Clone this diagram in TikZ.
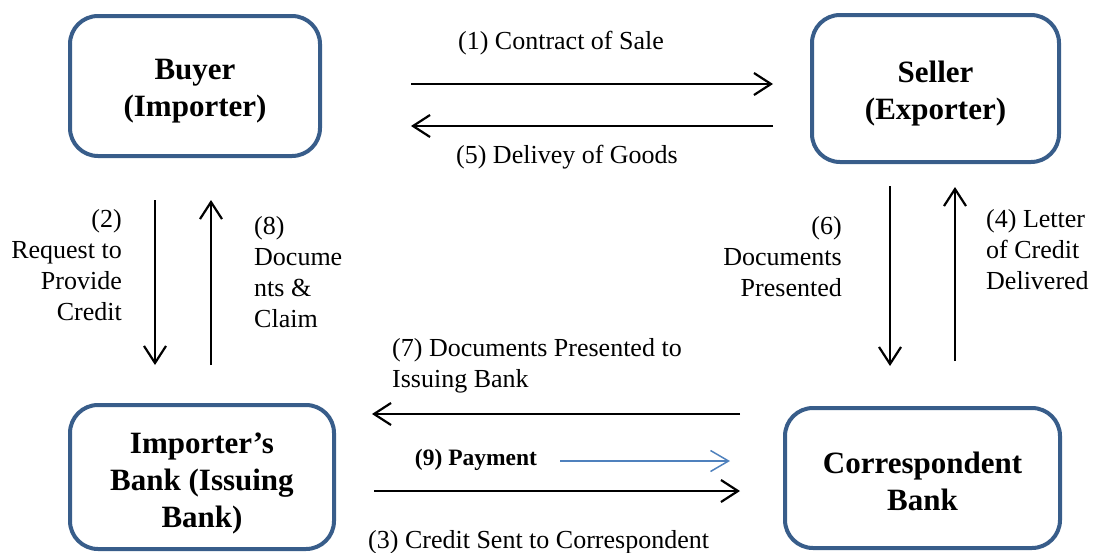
\documentclass[tikz,border=0pt]{standalone}
\usepackage{fontspec}
\setmainfont{Liberation Serif}
\usetikzlibrary{arrows.meta}
\definecolor{boxblue}{RGB}{56,93,138}
\definecolor{payblue}{RGB}{79,129,189}
\newcommand{\toppad}[1]{\rule{0pt}{#1pt}}
\begin{document}
\begin{tikzpicture}[x=1pt,y=-1pt,
  party/.style={draw=boxblue, line width=4pt, rounded corners=28pt, align=center,
    font=\fontsize{31}{37}\selectfont\bfseries},
  flow/.style={line width=2.2pt, -{Straight Barb[length=17pt,width=22pt,line width=2.2pt]}},
  payflow/.style={draw=payblue, line width=1.5pt, -{Straight Barb[length=18pt,width=21pt,line width=1.5pt]}},
  lbl/.style={font=\fontsize{26}{31}\selectfont, inner sep=0pt},
  paylbl/.style={font=\fontsize{23.5}{28}\selectfont\bfseries, inner sep=0pt}]
\useasboundingbox (0,0) rectangle (1095,552);
% boxes
\node[party, minimum width=250pt, minimum height=140pt] (buyer) at (195,86) {\toppad{31}Buyer\\(Importer)};
\node[party, minimum width=247pt, minimum height=147pt] (seller) at (935.5,88.5) {\toppad{32}Seller\\(Exporter)};
\node[party, minimum width=264pt, minimum height=144pt] (ibank) at (202,477) {\toppad{33}Importer’s\\Bank (Issuing\\Bank)};
\node[party, minimum width=275pt, minimum height=140pt] (cbank) at (922.5,478) {\toppad{28}Correspondent\\Bank};
% arrow end points
\coordinate (p1a) at (411,84);  \coordinate (p1b) at (773,84);
\coordinate (p5a) at (773,126); \coordinate (p5b) at (411,126);
\coordinate (p2a) at (155,200); \coordinate (p2b) at (155,365);
\coordinate (p8a) at (211,365); \coordinate (p8b) at (211,200);
\coordinate (p6a) at (890,186); \coordinate (p6b) at (890,366);
\coordinate (p4a) at (955,361); \coordinate (p4b) at (955,187);
\coordinate (p7a) at (740,414); \coordinate (p7b) at (372,414);
\coordinate (p9a) at (560,461); \coordinate (p9b) at (730,461);
\coordinate (p3a) at (374,491); \coordinate (p3b) at (740,491);
% arrows
\draw[flow] (p1a) -- (p1b);
\draw[flow] (p5a) -- (p5b);
\draw[flow] (p2a) -- (p2b);
\draw[flow] (p8a) -- (p8b);
\draw[flow] (p6a) -- (p6b);
\draw[flow] (p4a) -- (p4b);
\draw[flow] (p7a) -- (p7b);
\draw[payflow] (p9a) -- (p9b);
\draw[flow] (p3a) -- (p3b);
% labels
\node[lbl] (l1) at (561,43) {(1) Contract of Sale};
\node[lbl] (l5) at (567,157) {(5) Delivey of Goods};
\node[lbl, align=right, anchor=north east] (l2) at (122,209) {(2)\\Request to\\Provide\\Credit};
\node[lbl, align=left, anchor=north west] (l8) at (254,216) {(8)\\Docume\\nts \&\\Claim};
\node[lbl, align=right, anchor=north east] (l6) at (842,216) {(6)\\Documents\\Presented};
\node[lbl, align=left, anchor=north west] (l4) at (986,209) {(4) Letter\\of Credit\\Delivered};
\node[lbl, align=left, anchor=north west] (l7) at (392,338) {(7) Documents Presented to\\Issuing Bank};
\node[paylbl] (l9) at (476,460) {(9) Payment};
\node[lbl, anchor=west] (l3) at (368,542) {(3) Credit Sent to Correspondent};
\end{tikzpicture}
\end{document}
